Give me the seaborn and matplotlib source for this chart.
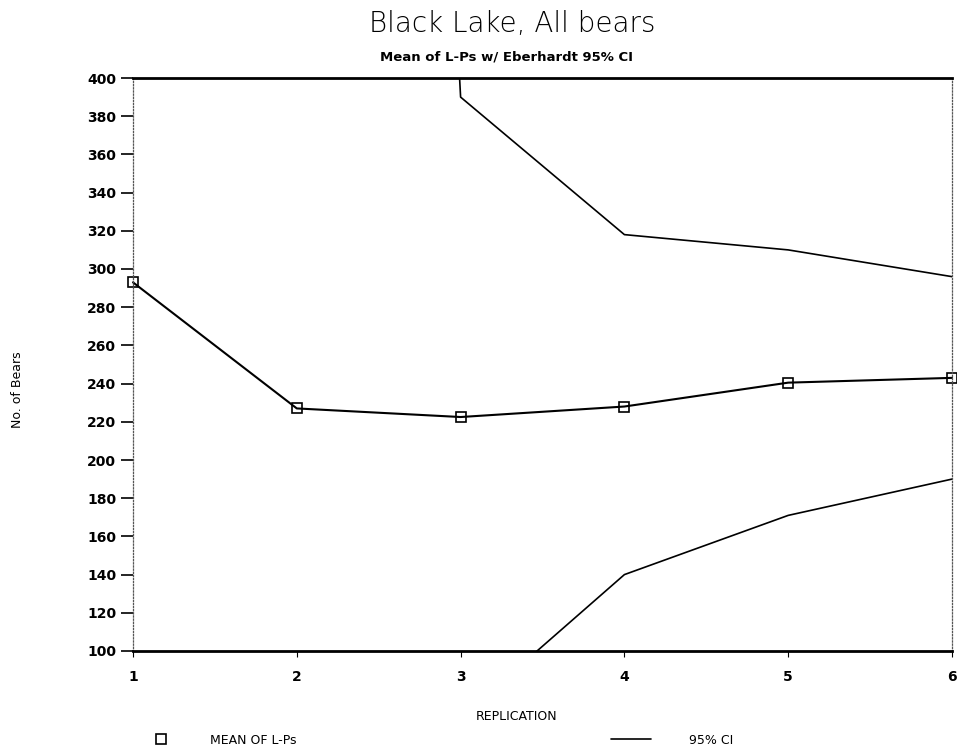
import matplotlib
matplotlib.use("Agg")
import matplotlib.pyplot as plt
from matplotlib.lines import Line2D
import seaborn as sns
import pandas as pd

# ---- data ----
replication = [1, 2, 3, 4, 5, 6]
mean_lps = [293, 227, 222.5, 228, 240.5, 243]
ci_upper = [1200, 2000, 390, 318, 310, 296]   # first two run off the top of the axes
ci_lower = [-400, -150, 65, 140, 171, 190]    # first values run off the bottom
y_ticks = list(range(100, 401, 20))

sns.set_style("white")
plt.rcParams["font.family"] = ["DejaVu Sans"]
plt.rcParams["text.color"] = "black"
plt.rcParams["axes.labelcolor"] = "black"

fig = plt.figure(figsize=(9.57, 7.5), dpi=100)
ax = fig.add_axes([133 / 957, 1 - 651 / 750, (952 - 133) / 957, (651 - 78) / 750])

df_mean = pd.DataFrame({"rep": replication, "val": mean_lps})
df_up = pd.DataFrame({"rep": replication, "val": ci_upper})
df_lo = pd.DataFrame({"rep": replication, "val": ci_lower})

sns.lineplot(data=df_mean, x="rep", y="val", ax=ax, color="black", lw=1.5,
             marker="s", markersize=6.5, markerfacecolor="none",
             markeredgecolor="black", markeredgewidth=1.2, clip_on=False)
sns.lineplot(data=df_up, x="rep", y="val", ax=ax, color="black", lw=1.2)
sns.lineplot(data=df_lo, x="rep", y="val", ax=ax, color="black", lw=1.2)

ax.set_xlim(1, 6)
ax.set_ylim(100, 400)
ax.set_yticks(y_ticks)
ax.set_xticks(replication)
ax.set_xlabel("")
ax.set_ylabel("")

for lab in ax.get_yticklabels():
    lab.set_fontweight("bold")
for lab in ax.get_xticklabels():
    lab.set_fontweight("bold")
ax.tick_params(axis="y", direction="out", length=9, width=1.2, pad=3,
               labelsize=10, left=True, colors="black")
ax.tick_params(axis="x", direction="out", length=4, width=0.8, pad=10,
               labelsize=10, bottom=True, colors="black")

for side in ["top", "bottom"]:
    ax.spines[side].set_visible(True)
    ax.spines[side].set_color("black")
    ax.spines[side].set_linewidth(2.0)
for side in ["left", "right"]:
    ax.spines[side].set_visible(True)
    ax.spines[side].set_color("#555555")
    ax.spines[side].set_linewidth(0.9)
    ax.spines[side].set_linestyle((0, (1, 1.5)))

fig.text(512 / 957, 1 - 24 / 750, "Black Lake, All bears", ha="center",
         va="center", fontsize=20, color="black", fontweight="light")
fig.text(507 / 957, 1 - 57 / 750, "Mean of L-Ps w/ Eberhardt 95% CI",
         ha="center", va="center", fontsize=9.5, fontweight="bold")
fig.text(517 / 957, 1 - 717 / 750, "REPLICATION", ha="center", va="center",
         fontsize=9)
fig.text(18 / 957, 1 - 390 / 750, "No. of Bears", ha="center", va="center",
         rotation=90, fontsize=9)

h_mean = Line2D([], [], ls="none", marker="s", markersize=6.5,
                markerfacecolor="none", markeredgecolor="black",
                markeredgewidth=1.2)
h_ci = Line2D([], [], color="black", lw=1.2)
leg1 = fig.legend([h_mean], ["MEAN OF L-Ps"], loc="center left",
                  bbox_to_anchor=(140 / 957, 1 - 740 / 750), frameon=False,
                  fontsize=9, handlelength=1.5, handletextpad=3.2)
leg2 = fig.legend([h_ci], ["95% CI"], loc="center left",
                  bbox_to_anchor=(600 / 957, 1 - 740 / 750), frameon=False,
                  fontsize=9, handlelength=3.2, handletextpad=3.0)

fig.savefig("out.png", dpi=100, facecolor="white")
